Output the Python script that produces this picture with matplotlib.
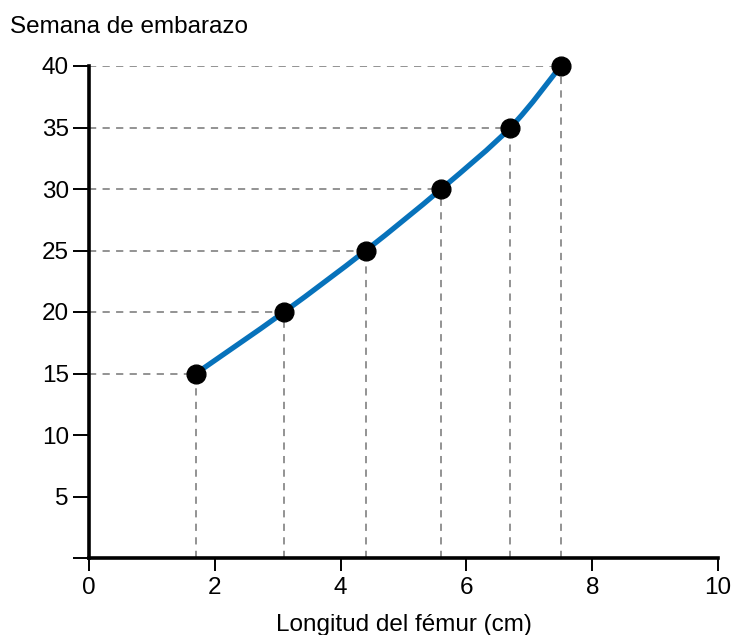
import numpy as np
import matplotlib
matplotlib.use("Agg")
import matplotlib.pyplot as plt
from matplotlib.path import Path
from matplotlib.patches import PathPatch

plt.rcParams['font.family'] = ['Liberation Sans', 'DejaVu Sans']

# datos
longitud = [1.7, 3.1, 4.4, 5.6, 6.7, 7.5]
semana = [15, 20, 25, 30, 35, 40]
xticks = [0, 2, 4, 6, 8, 10]
yticks = [0, 5, 10, 15, 20, 25, 30, 35, 40]
yticklabels = ['', '5', '10', '15', '20', '25', '30', '35', '40']

fig = plt.figure(figsize=(7.33, 6.35), dpi=100)
ax = fig.add_axes([89/733, 1-558/635, (718-89)/733, (558-66)/635])
ax.set_xlim(0, 10)
ax.set_ylim(0, 40)

# lineas guia punteadas
for xv, yv in zip(longitud, semana):
    ax.plot([0, xv], [yv, yv], ls=(0, (4, 3.5)), color='#8a8a8a', lw=1.3, zorder=1)
    ax.plot([xv, xv], [0, yv], ls=(0, (4, 3.5)), color='#8a8a8a', lw=1.3, zorder=1)

# curva suave por los puntos (Catmull-Rom con bezier cubica)
pts = np.column_stack([longitud, semana]).astype(float)
verts = [tuple(pts[0])]
codes = [Path.MOVETO]
n = len(pts)
for i in range(n - 1):
    p0 = pts[i - 1] if i > 0 else pts[i]
    p1 = pts[i]
    p2 = pts[i + 1]
    p3 = pts[i + 2] if i + 2 < n else pts[i + 1]
    c1 = p1 + (p2 - p0) / 6.0
    c2 = p2 - (p3 - p1) / 6.0
    verts += [tuple(c1), tuple(c2), tuple(p2)]
    codes += [Path.CURVE4] * 3
ax.add_patch(PathPatch(Path(verts, codes), facecolor='none', edgecolor='#0772bb',
                       lw=3.8, capstyle='round', zorder=2))

ax.plot(longitud, semana, 'o', color='black', ms=13.5, zorder=3, clip_on=False)

for s in ['top', 'right']:
    ax.spines[s].set_visible(False)
for s in ['left', 'bottom']:
    ax.spines[s].set_linewidth(2.6)

ax.set_xticks(xticks)
ax.set_yticks(yticks)
ax.set_yticklabels(yticklabels)
ax.tick_params(axis='both', labelsize=17.5, width=1.4, length=11.5, direction='out', pad=3)
ax.tick_params(axis='x', length=9, pad=5)

fig.text(404/733, 1-631/635, 'Longitud del fémur (cm)', fontsize=17.5, ha='center', va='baseline')
fig.text(10/733, 1-33/635, 'Semana de embarazo', fontsize=17.5, ha='left', va='baseline')

fig.savefig('out.png', dpi=100)
